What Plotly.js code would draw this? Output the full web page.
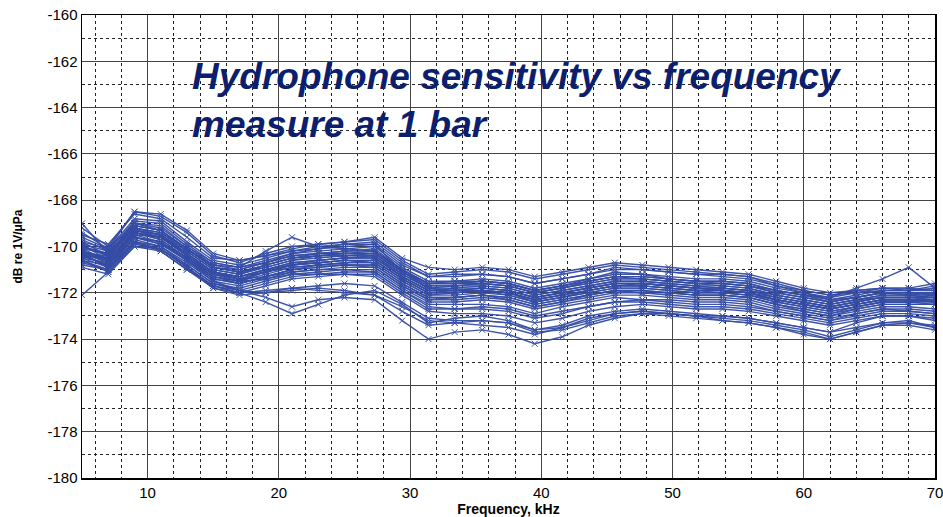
<!DOCTYPE html>
<html>
<head>
<meta charset="utf-8">
<script src="https://cdn.plot.ly/plotly-3.0.1.min.js"></script>
<style>html,body{margin:0;padding:0;background:#fff;}#chart{width:943px;height:517px;}</style>
</head>
<body>
<div id="chart"></div>
<script>
// Frequency points, kHz
var freq = [5, 7, 9, 11, 13, 15, 17, 19, 21, 23, 25, 27.3, 29.4, 31.4, 33.4, 35.5, 37.5, 39.5, 41.6, 43.6, 45.6, 47.7, 49.7, 51.8, 53.8, 55.8, 57.9, 60, 62, 64, 66, 68, 70];

// Tick labels
var xTickVals = [10, 20, 30, 40, 50, 60, 70];
var xTickText = ["10", "20", "30", "40", "50", "60", "70"];
var yTickVals = [-180, -178, -176, -174, -172, -170, -168, -166, -164, -162, -160];
var yTickText = ["-180", "-178", "-176", "-174", "-172", "-170", "-168", "-166", "-164", "-162", "-160"];

// Sensitivity per hydrophone, dB re 1V/µPa
var s1 = [-169.2,-170.0,-168.5,-168.7,-169.4,-170.4,-170.7,-170.3,-170.0,-169.9,-169.8,-169.7,-170.6,-171.2,-171.1,-171.0,-171.1,-171.4,-171.2,-171.0,-170.8,-170.9,-171.0,-171.1,-171.2,-171.3,-171.6,-171.9,-172.1,-172.0,-171.8,-171.9,-171.7];
var s2 = [-169.5,-169.9,-168.6,-168.8,-169.6,-170.5,-170.6,-170.4,-170.2,-170.0,-169.9,-169.9,-170.8,-171.3,-171.2,-171.2,-171.3,-171.6,-171.4,-171.2,-170.9,-171.0,-171.1,-171.2,-171.2,-171.3,-171.7,-171.9,-172.1,-171.9,-171.8,-171.8,-171.9];
var s3 = [-169.7,-170.2,-168.9,-169.0,-169.9,-170.7,-170.9,-170.6,-170.3,-170.2,-170.1,-170.0,-170.9,-171.5,-171.5,-171.4,-171.5,-171.8,-171.6,-171.4,-171.2,-171.2,-171.3,-171.4,-171.4,-171.5,-171.8,-172.0,-172.3,-172.1,-171.9,-171.9,-171.8];
var s4 = [-169.0,-170.3,-169.0,-169.2,-170.0,-170.8,-171.0,-170.7,-170.4,-170.3,-170.2,-170.2,-171.0,-171.6,-171.6,-171.5,-171.6,-171.9,-171.7,-171.5,-171.3,-171.3,-171.4,-171.5,-171.5,-171.6,-171.9,-172.1,-172.3,-172.2,-172.0,-172.0,-172.0];
var s5 = [-170.0,-170.3,-169.1,-169.3,-170.1,-170.9,-171.1,-170.8,-170.5,-170.4,-170.3,-170.3,-171.1,-171.7,-171.7,-171.6,-171.7,-172.0,-171.8,-171.6,-171.4,-171.4,-171.5,-171.6,-171.6,-171.7,-172.0,-172.2,-172.4,-172.2,-172.0,-172.1,-172.1];
var s6 = [-170.3,-170.4,-169.2,-169.4,-170.2,-171.0,-171.2,-170.9,-170.6,-170.5,-170.4,-170.4,-171.2,-171.8,-171.8,-171.7,-171.8,-172.1,-171.9,-171.7,-171.5,-171.5,-171.6,-171.7,-171.7,-171.8,-172.1,-172.3,-172.5,-172.3,-172.1,-172.1,-172.2];
var s7 = [-170.1,-170.6,-169.3,-169.6,-170.3,-171.1,-171.3,-171.0,-170.7,-170.6,-170.5,-170.5,-171.3,-171.9,-171.9,-171.8,-171.9,-172.2,-172.0,-171.8,-171.6,-171.6,-171.7,-171.8,-171.8,-171.9,-172.2,-172.4,-172.6,-172.4,-172.2,-172.2,-172.2];
var s8 = [-170.4,-170.5,-169.5,-169.6,-170.4,-171.2,-171.4,-171.1,-170.8,-170.7,-170.6,-170.6,-171.4,-172.0,-172.0,-171.9,-172.0,-172.3,-172.1,-171.9,-171.7,-171.7,-171.8,-171.9,-171.9,-172.0,-172.3,-172.5,-172.7,-172.5,-172.3,-172.3,-172.4];
var s9 = [-170.2,-170.7,-169.5,-169.8,-170.5,-171.3,-171.5,-171.2,-170.9,-170.8,-170.7,-170.7,-171.5,-172.1,-172.1,-172.0,-172.1,-172.4,-172.2,-172.0,-171.8,-171.8,-171.9,-172.0,-172.0,-172.1,-172.4,-172.6,-172.8,-172.6,-172.4,-172.4,-172.3];
var s10 = [-170.6,-170.8,-169.6,-169.8,-170.6,-171.4,-171.6,-171.3,-171.0,-170.9,-170.8,-170.8,-171.6,-172.2,-172.2,-172.1,-172.2,-172.5,-172.3,-172.1,-171.9,-171.9,-172.0,-172.1,-172.1,-172.2,-172.5,-172.7,-172.9,-172.7,-172.5,-172.5,-172.5];
var s11 = [-170.5,-170.9,-169.7,-170.0,-170.7,-171.5,-171.7,-171.4,-171.1,-171.0,-170.9,-170.9,-171.7,-172.3,-172.3,-172.2,-172.3,-172.6,-172.4,-172.2,-172.0,-172.0,-172.1,-172.2,-172.2,-172.3,-172.6,-172.8,-173.0,-172.8,-172.6,-172.6,-172.7];
var s12 = [-170.8,-171.0,-169.8,-170.0,-170.8,-171.6,-171.8,-171.5,-171.2,-171.1,-171.0,-171.0,-171.8,-172.4,-172.4,-172.3,-172.4,-172.7,-172.5,-172.3,-172.1,-172.1,-172.2,-172.3,-172.3,-172.4,-172.7,-172.9,-173.1,-172.9,-172.7,-172.7,-172.8];
var s13 = [-170.9,-171.2,-170.0,-170.2,-171.0,-171.8,-172.0,-171.7,-171.4,-171.3,-171.2,-171.2,-172.0,-172.7,-172.7,-172.6,-172.7,-173.0,-172.8,-172.6,-172.4,-172.4,-172.5,-172.6,-172.6,-172.7,-172.9,-173.1,-173.3,-173.1,-172.9,-172.9,-173.0];
var s14 = [-169.6,-170.1,-168.8,-168.9,-169.8,-170.6,-170.8,-170.5,-170.2,-170.1,-170.0,-169.9,-171.1,-171.8,-171.9,-171.9,-172.0,-172.4,-172.2,-172.0,-171.8,-171.8,-171.9,-172.0,-172.0,-172.1,-172.4,-172.6,-172.8,-172.6,-172.4,-172.4,-172.4];
var s15 = [-170.2,-170.6,-169.4,-169.7,-170.5,-171.3,-171.5,-171.4,-171.2,-171.2,-171.2,-171.3,-172.1,-172.8,-172.9,-172.9,-173.0,-173.3,-173.1,-172.8,-172.6,-172.5,-172.6,-172.7,-172.7,-172.8,-173.0,-173.2,-173.4,-173.2,-173.0,-173.0,-173.1];
var s16 = [-170.7,-171.0,-169.9,-170.1,-170.9,-171.7,-172.0,-171.9,-171.8,-171.7,-171.6,-171.7,-172.4,-173.1,-173.2,-173.2,-173.3,-173.6,-173.4,-173.0,-172.8,-172.7,-172.8,-172.9,-173.0,-173.1,-173.3,-173.5,-173.7,-173.5,-173.3,-173.3,-173.4];
var s17 = [-172.1,-171.1,-170.0,-170.1,-170.8,-171.6,-171.9,-172.0,-171.9,-171.8,-171.9,-172.1,-172.6,-173.2,-173.3,-173.4,-173.5,-173.8,-173.5,-173.1,-172.9,-172.8,-172.9,-173.0,-173.1,-173.2,-173.4,-173.6,-173.9,-173.6,-173.3,-173.2,-173.5];
var s18 = [-170.4,-170.8,-169.6,-169.8,-170.6,-171.5,-171.9,-172.2,-172.6,-172.3,-172.2,-172.3,-173.2,-174.0,-173.7,-173.6,-173.8,-174.2,-173.9,-173.4,-173.1,-172.9,-172.9,-173.0,-173.2,-173.3,-173.5,-173.7,-174.0,-173.7,-173.4,-173.3,-173.5];
var s19 = [-170.3,-170.9,-169.8,-170.2,-171.0,-171.7,-172.0,-172.4,-172.9,-172.5,-172.1,-171.9,-172.5,-173.3,-173.1,-173.0,-173.2,-173.6,-173.5,-173.2,-172.9,-172.8,-172.9,-173.0,-173.0,-173.1,-173.3,-173.5,-173.7,-173.3,-173.0,-173.0,-173.2];
var s20 = [-169.8,-170.4,-169.2,-169.4,-170.1,-170.8,-170.9,-170.2,-169.6,-170.0,-170.1,-170.2,-171.0,-171.6,-171.6,-171.5,-171.6,-171.9,-171.7,-171.4,-171.1,-171.2,-171.4,-171.5,-171.5,-171.6,-171.9,-172.1,-172.2,-171.8,-171.4,-170.9,-171.8];
var s21 = [-169.4,-170.1,-168.5,-168.6,-169.3,-170.3,-170.6,-170.4,-170.1,-169.9,-169.8,-169.6,-170.5,-170.9,-171.0,-170.9,-171.0,-171.3,-171.1,-170.9,-170.7,-170.8,-170.9,-171.0,-171.1,-171.2,-171.5,-171.8,-172.0,-171.9,-171.8,-171.8,-171.6];
var s22 = [-170.6,-171.1,-169.9,-170.1,-170.9,-171.7,-171.9,-171.6,-171.3,-171.2,-171.1,-171.1,-171.9,-172.5,-172.5,-172.5,-172.6,-172.9,-172.6,-172.4,-172.2,-172.3,-172.3,-172.4,-172.4,-172.5,-172.8,-173.0,-173.2,-172.9,-172.7,-172.8,-172.9];
var s23 = [-169.9,-170.2,-169.2,-169.5,-170.2,-171.0,-171.2,-170.8,-170.5,-170.3,-170.3,-170.2,-171.1,-171.6,-171.6,-171.6,-171.7,-172.0,-171.8,-171.5,-171.3,-171.4,-171.5,-171.6,-171.7,-171.8,-172.1,-172.3,-172.5,-172.3,-172.1,-172.1,-172.0];
var s24 = [-170.5,-170.7,-169.4,-169.7,-170.5,-171.2,-171.3,-171.1,-170.9,-170.8,-170.7,-170.6,-171.4,-172.0,-171.9,-171.9,-172.0,-172.3,-172.1,-171.9,-171.7,-171.6,-171.7,-171.8,-171.9,-172.0,-172.3,-172.5,-172.7,-172.5,-172.3,-172.3,-172.3];
var s25 = [-170.0,-170.4,-169.3,-169.5,-170.3,-171.1,-171.4,-171.3,-171.1,-171.0,-171.0,-171.1,-171.9,-172.6,-172.7,-172.7,-172.8,-173.1,-172.9,-172.6,-172.4,-172.3,-172.4,-172.5,-172.5,-172.6,-172.8,-173.0,-173.2,-173.0,-172.8,-172.8,-172.9];
var s26 = [-170.2,-170.5,-169.1,-169.3,-170.1,-170.9,-171.0,-170.7,-170.3,-170.1,-169.9,-169.8,-170.7,-171.3,-171.3,-171.2,-171.3,-171.6,-171.4,-171.2,-171.0,-171.0,-171.1,-171.2,-171.3,-171.4,-171.7,-172.0,-172.2,-172.0,-171.9,-171.9,-171.9];
var s27 = [-170.6,-171.0,-169.8,-170.1,-170.9,-171.8,-172.1,-172.0,-171.8,-171.9,-172.0,-172.1,-172.8,-173.4,-173.3,-173.2,-173.3,-173.7,-173.6,-173.3,-173.0,-172.9,-173.0,-173.1,-173.2,-173.3,-173.5,-173.8,-174.0,-173.7,-173.4,-173.4,-173.6];
var s28 = [-170.3,-170.9,-169.6,-169.9,-170.6,-171.3,-171.6,-171.3,-171.0,-170.8,-170.8,-170.9,-171.7,-172.3,-172.2,-172.1,-172.3,-172.6,-172.4,-172.1,-171.9,-172.0,-172.0,-172.1,-172.1,-172.2,-172.5,-172.8,-173.0,-172.7,-172.5,-172.5,-172.5];
var s29 = [-170.1,-170.3,-169.0,-169.3,-170.1,-170.9,-171.1,-170.9,-170.6,-170.4,-170.4,-170.3,-171.2,-171.8,-171.7,-171.7,-171.8,-172.1,-171.9,-171.7,-171.5,-171.5,-171.6,-171.7,-171.8,-171.9,-172.1,-172.3,-172.5,-172.3,-172.2,-172.2,-172.1];
var s30 = [-170.4,-170.8,-169.4,-169.6,-170.4,-171.2,-171.5,-171.1,-170.8,-170.7,-170.6,-170.7,-171.5,-172.1,-172.0,-171.9,-172.1,-172.4,-172.2,-171.9,-171.7,-171.7,-171.8,-171.9,-172.0,-172.1,-172.3,-172.5,-172.7,-172.5,-172.3,-172.3,-172.4];
var s31 = [-169.9,-170.6,-169.3,-169.5,-170.4,-171.1,-171.3,-171.0,-170.8,-170.6,-170.5,-170.4,-171.3,-171.9,-171.8,-171.8,-171.9,-172.2,-172.0,-171.8,-171.6,-171.6,-171.7,-171.8,-171.9,-172.0,-172.2,-172.4,-172.6,-172.4,-172.2,-172.2,-172.3];
var s32 = [-169.8,-170.1,-169.0,-169.1,-170.0,-170.7,-170.9,-170.7,-170.4,-170.3,-170.2,-170.1,-171.0,-171.6,-171.5,-171.5,-171.6,-171.9,-171.7,-171.5,-171.3,-171.3,-171.4,-171.5,-171.6,-171.7,-171.9,-172.1,-172.4,-172.2,-172.0,-172.0,-172.0];
var s33 = [-170.3,-170.7,-169.6,-169.9,-170.6,-171.4,-171.6,-171.3,-171.0,-170.9,-170.8,-170.8,-171.6,-172.2,-172.2,-172.1,-172.2,-172.5,-172.3,-172.1,-171.9,-171.9,-172.0,-172.1,-172.1,-172.2,-172.5,-172.7,-172.9,-172.6,-172.4,-172.4,-172.5];
var s34 = [-170.2,-170.5,-169.4,-169.6,-170.4,-171.2,-171.4,-171.1,-170.8,-170.7,-170.6,-170.6,-171.4,-172.0,-172.0,-171.9,-172.0,-172.3,-172.1,-171.9,-171.7,-171.7,-171.8,-171.9,-171.9,-172.0,-172.3,-172.5,-172.7,-172.5,-172.3,-172.3,-172.3];
var s35 = [-170.0,-170.4,-169.1,-169.3,-170.1,-170.9,-171.1,-170.8,-170.5,-170.4,-170.3,-170.3,-171.1,-171.7,-171.7,-171.6,-171.7,-172.0,-171.8,-171.6,-171.4,-171.4,-171.5,-171.6,-171.6,-171.7,-172.0,-172.2,-172.4,-172.2,-172.0,-172.0,-172.1];
var s36 = [-170.3,-170.6,-169.3,-169.5,-170.3,-171.1,-171.3,-171.0,-170.7,-170.6,-170.5,-170.5,-171.3,-171.9,-171.9,-171.8,-171.9,-172.2,-172.0,-171.8,-171.6,-171.6,-171.7,-171.8,-171.8,-171.9,-172.2,-172.4,-172.6,-172.4,-172.2,-172.2,-172.2];

var allSeries = [s1,s2,s3,s4,s5,s6,s7,s8,s9,s10,s11,s12,s13,s14,s15,s16,s17,s18,s19,s20,s21,s22,s23,s24,s25,s26,s27,s28,s29,s30,s31,s32,s33,s34,s35,s36];

var titleText = "Hydrophone sensitivity vs frequency<br>measure at 1 bar";
var xTitle = "Frequency, kHz";
var yTitle = "dB re 1V/\u03bcPa";

var lineColor = "rgb(52,76,165)";
var traces = allSeries.map(function (ys, i) {
  return {
    x: freq, y: ys, type: "scatter", mode: "lines+markers",
    name: "H" + (i + 1),
    line: {color: lineColor, width: 1.4},
    marker: {symbol: "x-thin", size: 6, line: {color: lineColor, width: 1}},
    opacity: 0.95,
    showlegend: false, hoverinfo: "x+y"
  };
});

var font = "Liberation Sans, Arial, sans-serif";
var layout = {
  width: 943, height: 517,
  margin: {l: 82, r: 8, t: 15, b: 39},
  paper_bgcolor: "#fff", plot_bgcolor: "#fff",
  showlegend: false,
  font: {family: font, color: "#000"},
  xaxis: {
    range: [5, 70], tickmode: "array", tickvals: xTickVals, ticktext: xTickText,
    ticks: "", ticklen: 0, ticklabeloverflow: "allow",
    showgrid: true, gridcolor: "#444", gridwidth: 1,
    minor: {dtick: 2, tick0: 0, showgrid: true, gridcolor: "#222", griddash: "3px,3px", gridwidth: 1},
    showline: true, linecolor: "#000", linewidth: 1.5, mirror: true,
    zeroline: false,
    tickfont: {family: font, size: 15, color: "#000"},
    title: {text: xTitle, font: {family: font, size: 14, color: "#000", weight: "bold"}, standoff: 4}
  },
  yaxis: {
    range: [-180, -160], tickmode: "array", tickvals: yTickVals, ticktext: yTickText,
    ticks: "", ticklen: 0,
    showgrid: true, gridcolor: "#444", gridwidth: 1,
    minor: {dtick: 1, tick0: -180, showgrid: true, gridcolor: "#222", griddash: "3px,3px", gridwidth: 1},
    showline: true, linecolor: "#000", linewidth: 1.5, mirror: true,
    zeroline: false,
    tickfont: {family: font, size: 15, color: "#000"},
    title: {text: yTitle, font: {family: font, size: 12, color: "#000", weight: "bold"}, standoff: 22}
  },
  shapes: [{
    type: "rect", xref: "paper", yref: "paper", layer: "between",
    x0: 0.124, x1: 0.924, y0: 0.708, y1: 0.914,
    fillcolor: "rgba(255,255,255,0.55)", line: {width: 0}
  }],
  annotations: [{
    text: titleText, xref: "paper", yref: "paper",
    x: 0.127, y: 0.916, xanchor: "left", yanchor: "top", align: "left",
    showarrow: false,
    font: {family: font, size: 37, color: "#0c1f6e", weight: "bold", style: "italic"}
  }]
};

Plotly.newPlot("chart", traces, layout, {displayModeBar: false, staticPlot: true});
</script>
</body>
</html>
